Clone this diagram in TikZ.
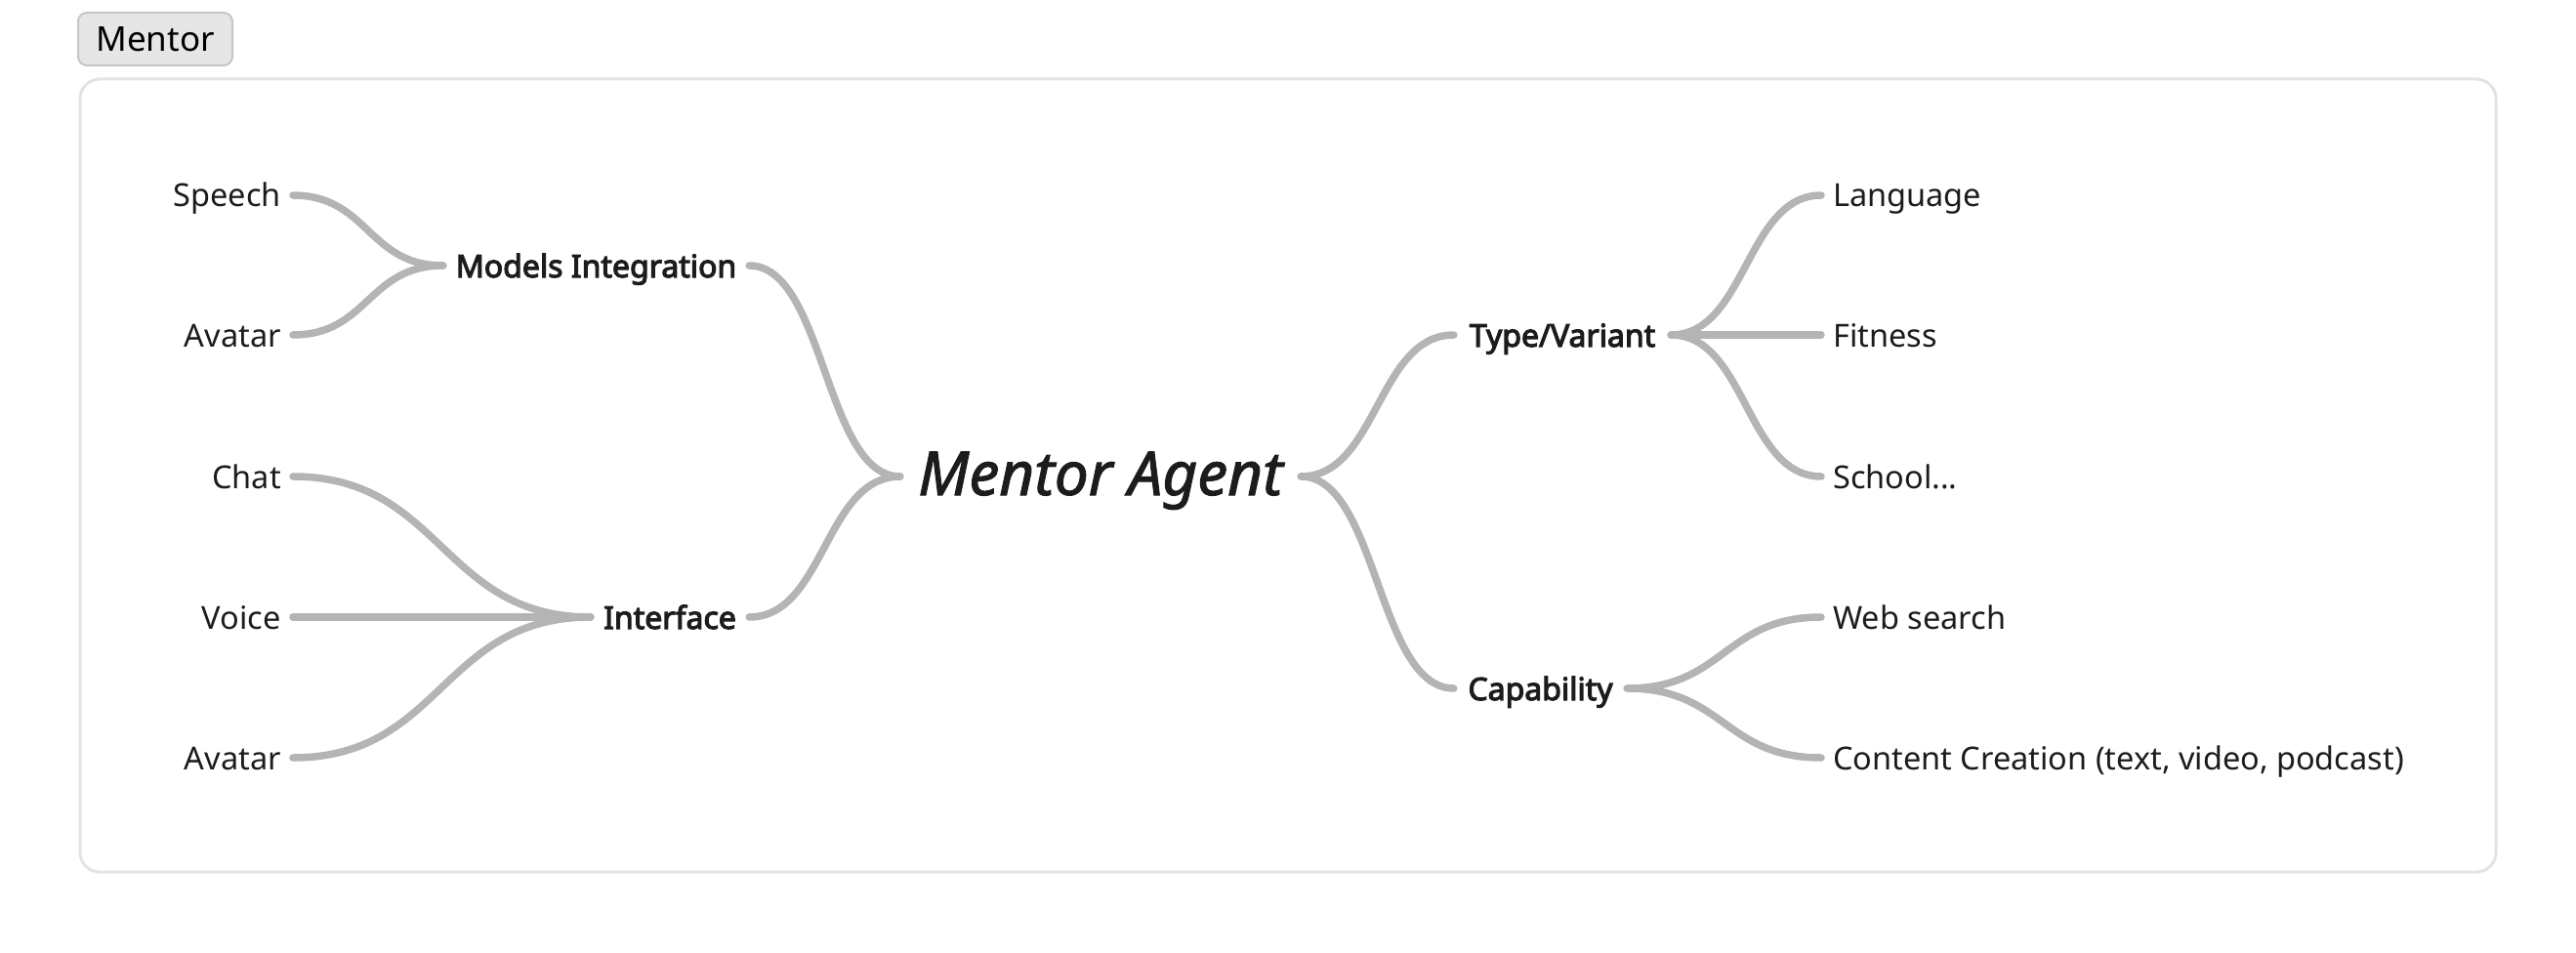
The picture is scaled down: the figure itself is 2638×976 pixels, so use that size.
\documentclass[tikz,border=0pt]{standalone}
\usepackage{fontspec}
\setmainfont{Noto Sans}
\newfontfamily\boldish{Noto Sans}[FakeBold=3.5]
\newfontfamily\rootfont{Noto Sans}[ItalicFeatures={FakeBold=1.6}]
\usetikzlibrary{calc}
\definecolor{conn}{HTML}{B4B4B4}
\definecolor{txt}{HTML}{1C1C1C}
\definecolor{framec}{HTML}{E3E3E3}
\definecolor{btnfill}{HTML}{E6E6E6}
\definecolor{btnline}{HTML}{C6C6C6}
\tikzset{
  base/.style={text=txt, inner ysep=0pt, inner xsep=12pt, text height=30pt, text depth=6pt,
     font=\fontsize{32.5}{40}\selectfont},
  leafL/.style={base, anchor=east},
  leafR/.style={base, anchor=west},
  branch/.style={base, inner xsep=0pt, font=\fontsize{32}{40}\selectfont\boldish},
  rootnode/.style={base, inner xsep=0pt, text height=53pt, text depth=15pt,
     font=\fontsize{62}{68}\selectfont\rootfont\itshape},
  link/.style={draw=conn, line width=7.5pt, line cap=round},
  sc/.style={to path={let \p1=(\tikztostart), \p2=(\tikztotarget) in
     .. controls (\x1/2+\x2/2,\y1) and (\x1/2+\x2/2,\y2) .. (\tikztotarget)}},
  btn/.style={draw=btnline, fill=btnfill, line width=2pt, rounded corners=9pt,
     minimum width=158pt, minimum height=54pt, inner sep=0pt, text=black,
     font=\fontsize{35}{40}\selectfont}
}
\begin{document}
\begin{tikzpicture}[x=1pt,y=-1pt]
\useasboundingbox (0,0) rectangle (2638,976);
% frame
\draw[framec, line width=3pt, rounded corners=20pt] (82,81) rectangle (2556,893);
\node[btn] (btn) at (159,40) {Mentor};

% root
\node[rootnode, minimum width=410pt] (root) at (1127,488) {Mentor Agent};
% branches
\node[branch, minimum width=313pt] (mi) at (610.5,272) {Models Integration};
\node[branch, minimum width=162pt] (itf) at (686,632) {Interface};
\node[branch, minimum width=222pt] (tv) at (1600,343) {Type/Variant};
\node[branch, minimum width=177pt] (cap) at (1577.5,705) {Capability};
% left leaves
\node[leafL] (speech) at (300,200) {Speech};
\node[leafL] (avatar1) at (300,343) {Avatar};
\node[leafL] (chat) at (300,488) {Chat};
\node[leafL] (voice) at (300,632) {Voice};
\node[leafL] (avatar2) at (300,776) {Avatar};
% right leaves
\node[leafR] (lang) at (1865,200) {Language};
\node[leafR] (fit) at (1865,343) {Fitness};
\node[leafR] (school) at (1865,488) {School...};
\node[leafR] (web) at (1865,632) {Web search};
\node[leafR] (content) at (1865,776) {Content Creation (text, video, podcast)};

% connectors
\draw[link] (speech.east) to[sc] (mi.west);
\draw[link] (avatar1.east) to[sc] (mi.west);
\draw[link] (chat.east) to[sc] (itf.west);
\draw[link] (voice.east) to[sc] (itf.west);
\draw[link] (avatar2.east) to[sc] (itf.west);
\draw[link] (mi.east) to[sc] (root.west);
\draw[link] (itf.east) to[sc] (root.west);
\draw[link] (root.east) to[sc] (tv.west);
\draw[link] (root.east) to[sc] (cap.west);
\draw[link] (tv.east) to[sc] (lang.west);
\draw[link] (tv.east) to[sc] (fit.west);
\draw[link] (tv.east) to[sc] (school.west);
\draw[link] (cap.east) to[sc] (web.west);
\draw[link] (cap.east) to[sc] (content.west);
\end{tikzpicture}
\end{document}
